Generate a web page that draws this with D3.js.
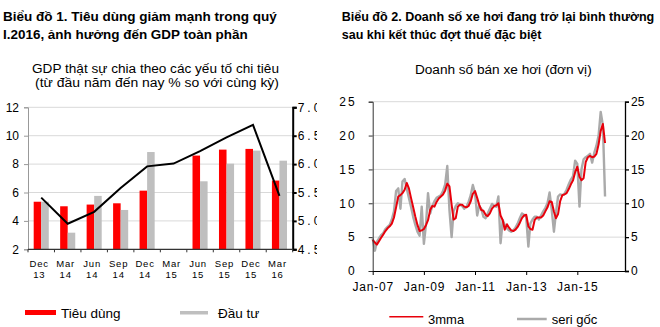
<!DOCTYPE html>
<html><head><meta charset="utf-8">
<script src="https://cdn.jsdelivr.net/npm/d3@7"></script>
<style>body{margin:0;background:#fff}svg{display:block;font-family:Arial,"Liberation Sans",sans-serif}</style>
</head><body><svg id="c" width="660" height="327"></svg>
<script>
// ---------- Chart 1 data ----------
const quarters = ["Dec 13","Mar 14","Jun 14","Sep 14","Dec 14","Mar 15","Jun 15","Sep 15","Dec 15","Mar 16"];
const consumption = [5.35, 5.03, 5.15, 5.24, 6.13, null, 8.6, 9.02, 9.07, 6.84];
const investment  = [5.35, 3.17, 5.76, 4.77, 8.85, null, 6.79, 8.03, 8.95, 8.24];
const gdpReal     = [5.41, 4.95, 5.16, 5.58, 5.96, 6.01, 6.23, 6.47, 6.69, 5.44];
const leftTicks1  = [2, 4, 6, 8, 10, 12];
const rightTicks1 = [4.5, 5.0, 5.5, 6.0, 6.5, 7.0];

// ---------- Chart 2 data (monthly, from Jan 2007) ----------
const carStart = "2007-01";
const seriGoc = [
 4.8,3.0,4.3,4.8,5.3,5.6,6.2,6.5,6.8,7.6,8.8,11.8,
 12.2,9.2,13.2,13.6,12.2,10.8,9.5,8.0,6.8,5.8,5.2,9.5,
 4.0,7.0,11.5,8.5,9.6,10.3,10.8,11.0,11.2,11.8,12.8,15.5,
 9.0,5.0,8.8,9.6,10.0,9.8,9.6,9.2,9.5,10.2,11.2,12.7,
 11.5,8.2,9.6,9.2,8.0,7.8,8.5,9.2,9.9,9.6,9.5,11.0,
 4.1,7.5,6.8,6.3,6.0,5.8,6.0,6.4,7.0,7.8,8.5,8.3,
 8.0,3.6,7.0,7.6,8.0,8.0,7.6,8.2,8.8,9.3,10.0,11.6,
 9.0,5.8,8.5,11.0,11.3,11.2,11.4,12.0,12.8,13.5,14.0,16.3,
 15.8,9.5,15.0,16.5,16.8,17.0,17.3,16.0,17.5,18.5,20.0,23.5,
 21.5,11.0
];
const mma3 = [
 4.6,4.2,3.9,4.4,4.9,5.4,5.9,6.3,6.6,7.0,7.9,9.4,
 11.0,11.2,11.5,12.0,13.0,12.2,10.8,9.4,8.0,6.8,5.9,6.0,
 6.2,6.8,7.5,9.0,9.6,9.5,10.2,10.7,11.0,11.3,11.9,12.9,
 12.5,9.8,7.6,7.8,9.5,9.8,9.8,9.5,9.4,9.6,10.3,11.4,
 11.8,10.8,9.8,9.0,8.9,8.3,8.1,8.5,9.2,9.6,9.7,10.0,
 8.2,7.5,6.1,6.9,6.4,6.0,5.9,6.1,6.5,7.1,7.8,8.2,
 8.3,6.6,6.2,6.1,7.5,7.9,7.9,7.9,8.2,8.8,9.4,10.3,
 10.2,8.8,7.8,8.4,10.3,11.2,11.3,11.5,12.1,12.8,13.4,14.6,
 15.4,13.9,13.4,13.7,16.1,16.8,17.0,16.8,16.9,17.3,18.7,20.7,
 21.7,18.9
];
const yTicks2 = [0, 5, 10, 15, 20, 25];
const xTickDates2 = ["2007-01","2009-01","2011-01","2013-01","2015-01"];

// ---------- Setup ----------
const svg = d3.select("#c");
const FONT = 'Arial,"Liberation Sans",sans-serif';
svg.append("rect").attr("width",660).attr("height",327).attr("fill","#fff");
svg.append("defs").append("clipPath").attr("id","clipL")
  .append("rect").attr("x",0).attr("y",0).attr("width",317).attr("height",327);

// text scaled horizontally to a target width
function fitText(g, x, y, txt, size, weight, len, anchor) {
  const t = g.append("text").attr("x",0).attr("y",0).text(txt)
    .attr("font-size",size).attr("font-weight",weight||"normal").attr("fill","#000")
    .attr("text-anchor",anchor||"start");
  let sx = 1;
  if (len) { const w = t.node().getComputedTextLength(); if (w>0) sx = len / w; }
  t.attr("transform",`translate(${x},${y}) scale(${sx},1)`);
  return t;
}
function styleAxis(g, size) {
  g.attr("font-family",FONT).attr("font-size",size);
  g.selectAll("text").attr("fill","#000");
}

// ================= LEFT PANEL =================
const L = svg.append("g").attr("clip-path","url(#clipL)");
fitText(L, 3, 21, "Biểu đồ 1. Tiêu dùng giảm mạnh trong quý", 13, "bold", 274);
fitText(L, 3, 39, "I.2016, ảnh hưởng đến GDP toàn phần", 13, "bold", 245);
fitText(L, 155.5, 72.7, "GDP thật sự chia theo các yếu tố chi tiêu", 13.5, "normal", 247, "middle");
fitText(L, 157, 87.3, "(từ đầu năm đến nay % so với cùng kỳ)", 13.5, "normal", 244, "middle");

const xL0 = 28, xL1 = 292.7, yTop = 107.3, yBot = 249.3;
const x0 = d3.scaleBand().domain(quarters).range([xL0, xL1]).paddingInner(0.43).paddingOuter(0.215);
const x1 = d3.scaleBand().domain(["c","i"]).range([0, x0.bandwidth()]);
const yL = d3.scaleLinear().domain([2, 12]).range([yBot, yTop]);
const yR = d3.scaleLinear().domain([4.5, 7]).range([yBot, yTop]);

// gridlines
L.append("g").selectAll("line").data(leftTicks1.slice(1)).join("line")
  .attr("x1",xL0).attr("x2",xL1).attr("y1",d=>yL(d)).attr("y2",d=>yL(d))
  .attr("stroke","#d9d9d9").attr("stroke-width",1);

// bars
const bars = quarters.map((q,i)=>({q, c:consumption[i], inv:investment[i]}));
L.append("g").selectAll("rect.c").data(bars.filter(d=>d.c!=null)).join("rect")
  .attr("x",d=>x0(d.q)+x1("c")).attr("width",x1.bandwidth())
  .attr("y",d=>yL(d.c)).attr("height",d=>yBot-yL(d.c)).attr("fill","#ff0000");
L.append("g").selectAll("rect.i").data(bars.filter(d=>d.inv!=null)).join("rect")
  .attr("x",d=>x0(d.q)+x1("i")).attr("width",x1.bandwidth())
  .attr("y",d=>yL(d.inv)).attr("height",d=>yBot-yL(d.inv)).attr("fill","#bfbfbf");

// GDP line
const gline = d3.line().x((d,i)=>x0(quarters[i])+x0.bandwidth()/2).y(d=>yR(d));
L.append("path").datum(gdpReal).attr("d",gline).attr("fill","none")
  .attr("stroke","#000").attr("stroke-width",2).attr("stroke-linejoin","miter");

// left axis
const axL = L.append("g").attr("transform",`translate(${xL0},0)`)
  .call(d3.axisLeft(yL).tickValues(leftTicks1).tickSize(4).tickPadding(5));
styleAxis(axL, 12);
axL.selectAll("path,line").attr("stroke","#999");

// right axis
const axR = L.append("g").attr("transform",`translate(${xL1},0)`)
  .call(d3.axisRight(yR).tickValues(rightTicks1).tickFormat(d3.format(".1f")).tickSize(4).tickPadding(1));
styleAxis(axR, 12);
axR.selectAll("text").attr("letter-spacing",3);
axR.selectAll("path,line").attr("stroke","#000").attr("stroke-width",2);

// bottom axis
const step = x0.step();
L.append("line").attr("x1",xL0).attr("x2",xL1).attr("y1",yBot).attr("y2",yBot)
  .attr("stroke","#333").attr("stroke-width",1.2);
L.append("g").selectAll("line").data(d3.range(quarters.length+1)).join("line")
  .attr("x1",i=>xL0+i*step).attr("x2",i=>xL0+i*step)
  .attr("y1",yBot).attr("y2",yBot+3).attr("stroke","#333");
const catG = L.append("g").attr("font-size",9.5).attr("fill","#000");
quarters.forEach(q=>{
  const [m,y] = q.split(" ");
  const cx = x0(q)+x0.bandwidth()/2 - 2;
  catG.append("text").attr("x",cx).attr("y",266.5).attr("text-anchor","middle").attr("letter-spacing",0.8).text(m);
  catG.append("text").attr("x",cx).attr("y",277.5).attr("text-anchor","middle").attr("letter-spacing",0.8).text(y);
});

// legend
L.append("rect").attr("x",25).attr("y",310).attr("width",31).attr("height",5).attr("fill","#ff0000");
fitText(L, 61, 318.3, "Tiêu dùng", 13.5);
L.append("rect").attr("x",180).attr("y",311).attr("width",28).attr("height",3.5).attr("fill","#bfbfbf");
fitText(L, 218, 318.3, "Đầu tư", 13.5);
L.append("line").attr("x1",25).attr("x2",56).attr("y1",333).attr("y2",333).attr("stroke","#000").attr("stroke-width",2);
fitText(L, 63, 337.5, "GDP thực (RHS)", 13.5);

// ================= RIGHT PANEL =================
const R = svg.append("g");
fitText(R, 341.7, 21, "Biểu đồ 2. Doanh số xe hơi đang trở lại bình thường", 13, "bold", 313);
fitText(R, 341.7, 39, "sau khi kết thúc đợt thuế đặc biệt", 13, "bold", 200);
fitText(R, 503.3, 74, "Doanh số bán xe hơi (đơn vị)", 13.5, "normal", 177, "middle");

const rx0 = 372.7, rx1 = 625, ry0 = 271, ry1 = 101.7;
const parseM = d3.timeParse("%Y-%m");
const t0 = parseM(carStart);
const xT = d3.scaleTime().domain([t0, new Date(2016,10,12)]).range([rx0, rx1]);
const y2 = d3.scaleLinear().domain([0,25]).range([ry0, ry1]);

R.append("g").selectAll("line").data(yTicks2.slice(1)).join("line")
  .attr("x1",rx0).attr("x2",rx1).attr("y1",d=>y2(d)).attr("y2",d=>y2(d))
  .attr("stroke","#d9d9d9").attr("stroke-width",1);

const toPts = arr => arr.map((v,i)=>({date:d3.timeMonth.offset(t0,i), v}));
const cl = d3.line().x(d=>xT(d.date)).y(d=>y2(d.v));
R.append("path").datum(toPts(seriGoc)).attr("d",cl).attr("fill","none")
  .attr("stroke","#aaaaaa").attr("stroke-width",2.4).attr("stroke-linejoin","round");
R.append("path").datum(toPts(mma3)).attr("d",cl).attr("fill","none")
  .attr("stroke","#e8000b").attr("stroke-width",2).attr("stroke-linejoin","round");

const a2L = R.append("g").attr("transform",`translate(${rx0},0)`)
  .call(d3.axisLeft(y2).tickValues(yTicks2).tickSize(4).tickPadding(12));
styleAxis(a2L, 12);
a2L.selectAll("text").attr("letter-spacing",2);
a2L.selectAll("path,line").attr("stroke","#333");

const a2R = R.append("g").attr("transform",`translate(${rx1},0)`)
  .call(d3.axisRight(y2).tickValues(yTicks2).tickSize(4).tickPadding(2));
styleAxis(a2R, 12);
a2R.selectAll("path,line").attr("stroke","#000").attr("stroke-width",1.3);

const a2B = R.append("g").attr("transform",`translate(0,${ry0})`)
  .call(d3.axisBottom(xT).tickValues(xTickDates2.map(parseM)).tickFormat(d3.timeFormat("%b-%y")).tickSize(4).tickPadding(7.5).tickSizeOuter(0));
styleAxis(a2B, 12);
a2B.selectAll("text").attr("letter-spacing",0.8);
a2B.selectAll("path,line").attr("stroke","#000");

// legend
R.append("line").attr("x1",389.3).attr("x2",423.3).attr("y1",316.7).attr("y2",316.7).attr("stroke","#e8000b").attr("stroke-width",1.5);
fitText(R, 428, 324, "3mma", 13);
R.append("line").attr("x1",517).attr("x2",546.7).attr("y1",319).attr("y2",319).attr("stroke","#aaaaaa").attr("stroke-width",2.5);
fitText(R, 551.7, 324, "seri gốc", 13);
</script></body></html>
